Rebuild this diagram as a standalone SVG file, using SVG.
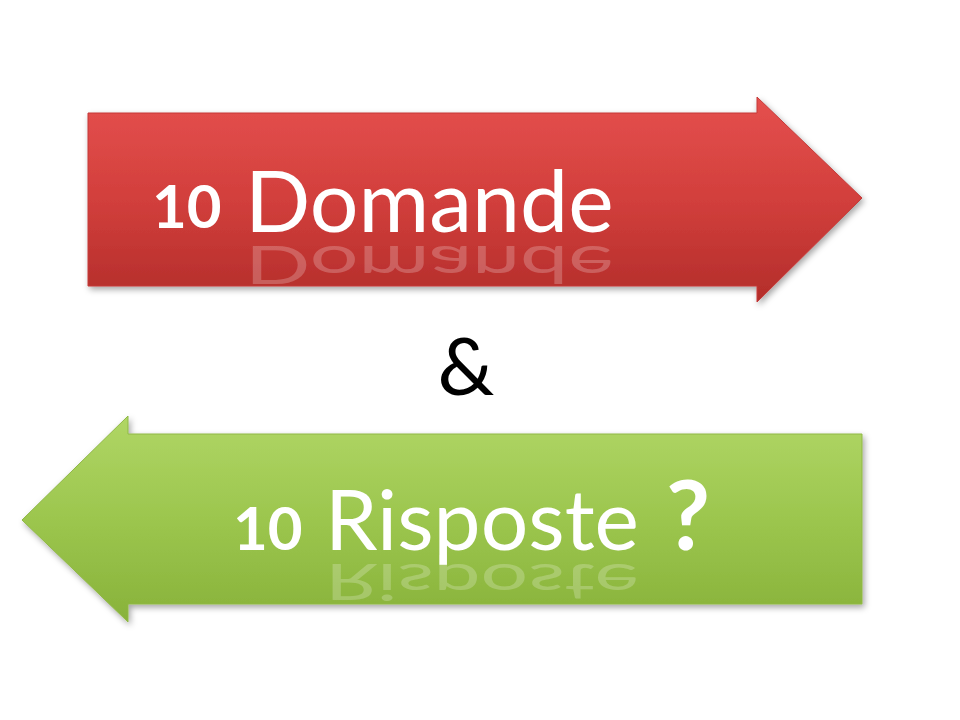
<svg xmlns="http://www.w3.org/2000/svg" width="960" height="720" viewBox="0 0 960 720">
<defs>
<linearGradient id="red" x1="0" y1="0" x2="0" y2="1"><stop offset="0" stop-color="#e5504e"/><stop offset="0.5" stop-color="#d23f3c"/><stop offset="1" stop-color="#b32d2a"/></linearGradient>
<linearGradient id="green" x1="0" y1="0" x2="0" y2="1"><stop offset="0" stop-color="#b0d665"/><stop offset="0.5" stop-color="#9cc64e"/><stop offset="1" stop-color="#88b23a"/></linearGradient>
<filter id="sh" x="-10%" y="-10%" width="120%" height="130%"><feDropShadow dx="2" dy="3" stdDeviation="3" flood-opacity="0.35"/></filter>
<style>
.t{font-family:Lato,"Open Sans",sans-serif;fill:#fff}
.n{font-weight:bold;font-size:60px}
.w{font-size:86px}
.r{opacity:0.22}
</style>
</defs>
<g id="red-arrow">
<polygon points="88,113 757,113 757,97 862,198 757,302 757,286 88,286" fill="url(#red)" stroke="#c43a38" filter="url(#sh)"/>
<text class="t n" x="152" y="228">10</text>
<text class="t w" x="245" y="232">Domande</text>
<text class="t w r" x="245" y="0" transform="translate(0,246) scale(1,-0.6)">Domande</text>
</g>
<g id="amp"><text x="466" y="395" text-anchor="middle" font-family="Lato,'Open Sans',sans-serif" font-size="80" fill="#000">&amp;</text></g>
<g id="green-arrow">
<polygon points="862,434 128,434 128,416 22,520 128,622 128,604 862,604" fill="url(#green)" stroke="#8fb845" filter="url(#sh)"/>
<text class="t n" x="233" y="550">10</text>
<text class="t" x="325" y="550" font-size="84">Risposte</text>
<text class="t" x="666" y="550" font-size="96" font-weight="bold">?</text>
<text class="t r" x="325" y="0" font-size="84" transform="translate(0,564) scale(1,-0.6)">Risposte</text>
</g>
</svg>
